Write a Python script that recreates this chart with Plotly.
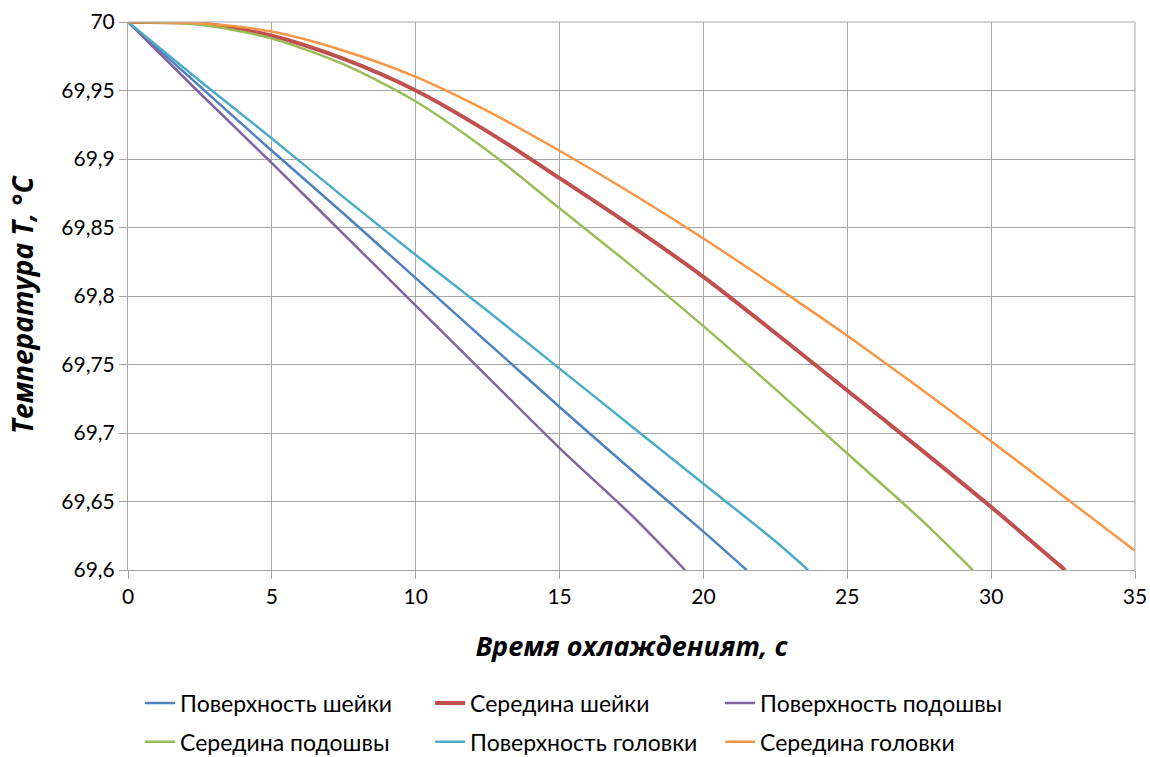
import plotly.graph_objects as go

# Time (s) and temperatures (°C)
t_blue = [0, 2.5, 5, 7.5, 10, 12.5, 15, 17.5, 20, 21.5]
surf_neck = [70, 69.953, 69.906, 69.860, 69.813, 69.766, 69.719, 69.673, 69.628, 69.600]

t_red = [0, 2.5, 5, 7.5, 10, 12.5, 15, 17.5, 20, 22.5, 25, 27.5, 30, 32.57]
mid_neck = [70, 69.999, 69.990, 69.973, 69.950, 69.920, 69.886, 69.851, 69.814, 69.773, 69.731, 69.689, 69.646, 69.600]

t_purple = [0, 2.5, 5, 7.5, 10, 12.5, 15, 17.5, 19.36]
surf_sole = [70, 69.948, 69.897, 69.845, 69.793, 69.741, 69.689, 69.640, 69.600]

t_green = [0, 2.5, 5, 7.5, 10, 12.5, 15, 17.5, 20, 22.5, 25, 27.5, 29.36]
mid_sole = [70, 69.998, 69.988, 69.969, 69.942, 69.906, 69.864, 69.822, 69.778, 69.732, 69.685, 69.638, 69.600]

t_cyan = [0, 2.5, 5, 7.5, 10, 12.5, 15, 17.5, 20, 22.5, 23.64]
surf_head = [70, 69.957, 69.915, 69.872, 69.830, 69.789, 69.747, 69.705, 69.663, 69.621, 69.600]

t_orange = [0, 2.5, 5, 7.5, 10, 12.5, 15, 17.5, 20, 22.5, 25, 27.5, 30, 32.5, 35]
mid_head = [70, 69.999, 69.993, 69.979, 69.960, 69.935, 69.906, 69.875, 69.842, 69.807, 69.771, 69.733, 69.694, 69.654, 69.614]

names = ["Поверхность шейки", "Середина шейки", "Поверхность подошвы",
         "Середина подошвы", "Поверхность головки", "Середина головки"]

x_ticks = [0, 5, 10, 15, 20, 25, 30, 35]
x_ticktext = ["0", "5", "10", "15", "20", "25", "30", "35"]
y_ticks = [69.6, 69.65, 69.7, 69.75, 69.8, 69.85, 69.9, 69.95, 70]
y_ticktext = ["69,6", "69,65", "69,7", "69,75", "69,8", "69,85", "69,9", "69,95", "70"]

x_title = "<b><i>Время охлажденият, с</i></b>"
y_title = "<b><i>Температура T, °C</i></b>"

series = [
    (t_blue, surf_neck, "#4F81BD", 2.5),
    (t_red, mid_neck, "#C0504D", 4),
    (t_purple, surf_sole, "#8064A2", 2.5),
    (t_green, mid_sole, "#9BBB59", 2.5),
    (t_cyan, surf_head, "#4BACC6", 2.5),
    (t_orange, mid_head, "#F79646", 2.5),
]

fig = go.Figure()
for i, ((xs, ys, col, w), nm) in enumerate(zip(series, names)):
    fig.add_trace(go.Scatter(x=xs, y=ys, mode="lines", name=nm,
                             legend="legend" if i < 3 else "legend2",
                             line=dict(color=col, width=w, shape="spline", smoothing=0.8)))

font_family = "Lato, 'Open Sans', sans-serif"
title_family = "'Open Sans', Lato, sans-serif"
grid = "#A6A6A6"

legend_common = dict(orientation="h", x=0.012, xanchor="left", yanchor="middle",
                     font=dict(size=23, family=font_family), entrywidth=245,
                     entrywidthmode="pixels", itemwidth=30, bgcolor="rgba(0,0,0,0)")

fig.update_layout(
    width=1150, height=757,
    paper_bgcolor="white", plot_bgcolor="white",
    margin=dict(l=128, r=15, t=22, b=187, autoexpand=False),
    font=dict(family=font_family, size=21, color="black"),
    showlegend=True,
    legend=dict(y=-0.2427, **legend_common),
    legend2=dict(y=-0.3135, **legend_common),
)
fig.update_xaxes(
    range=[0, 35], tickvals=x_ticks, ticktext=x_ticktext,
    showgrid=True, gridcolor=grid, gridwidth=1,
    showline=True, linecolor=grid, linewidth=1,
    ticks="outside", ticklen=8, tickcolor=grid,
    zeroline=False, tickfont=dict(size=21), automargin=False,
    title=dict(text=x_title, font=dict(size=27, family=title_family), standoff=29),
)
fig.update_yaxes(
    range=[69.6, 70], tickvals=y_ticks, ticktext=y_ticktext,
    showgrid=True, gridcolor=grid, gridwidth=1,
    showline=True, linecolor=grid, linewidth=1,
    ticks="outside", ticklen=8, tickcolor=grid,
    zeroline=False, tickfont=dict(size=21), automargin=False,
)
fig.add_annotation(text=y_title, xref="paper", yref="paper", x=-0.1053, y=0.4854,
                   xanchor="center", yanchor="middle", textangle=-90, showarrow=False,
                   font=dict(size=28, family=title_family, color="black"))
fig.add_shape(type="line", xref="paper", yref="paper", x0=0, x1=1, y0=1, y1=1,
              line=dict(color=grid, width=1))
fig.add_shape(type="line", xref="paper", yref="paper", x0=1, x1=1, y0=0, y1=1,
              line=dict(color=grid, width=1))

fig.write_html(
    "out.html",
    config={"displayModeBar": False},
    post_script="document.body.style.margin='0';document.documentElement.style.overflow='hidden';",
)
